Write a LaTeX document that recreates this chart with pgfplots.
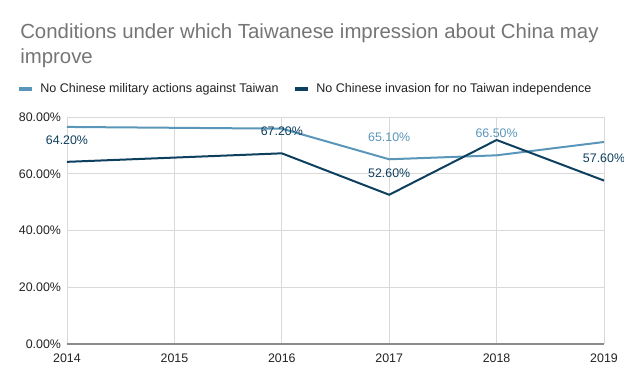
\documentclass[border=0pt]{standalone}
\usepackage{fontspec}
\setmainfont{Liberation Sans}
\usepackage{pgfplots}
\pgfplotsset{compat=1.18}
\definecolor{lightser}{HTML}{5A96BA}
\definecolor{darkser}{HTML}{0D3F5F}
\definecolor{titlegray}{HTML}{757575}
\definecolor{gridgray}{HTML}{D9D9D9}
\definecolor{axisgray}{HTML}{8C8C8C}
\definecolor{ticktext}{HTML}{222222}
\begin{document}
\begin{tikzpicture}[x=1pt,y=1pt]
\path[use as bounding box] (0,0) rectangle (468,288.75);
% title
\node[anchor=base west, inner sep=0, text=titlegray, font=\fontsize{15.3}{18}\selectfont] at (15,259.5) {Conditions under which Taiwanese impression about China may};
\node[anchor=base west, inner sep=0, text=titlegray, font=\fontsize{15.3}{18}\selectfont] at (15,241) {improve};
% legend
\fill[lightser] (14.25,220.5) rectangle (24,223.5);
\node[anchor=base west, inner sep=0, text=ticktext, font=\fontsize{9.4}{11}\selectfont] at (30,219) {No Chinese military actions against Taiwan};
\fill[darkser] (221.25,220.5) rectangle (231,223.5);
\node[anchor=base west, inner sep=0, text=ticktext, font=\fontsize{9.4}{11}\selectfont] at (237,219) {No Chinese invasion for no Taiwan independence};
\begin{axis}[
  at={(50.25pt,30.75pt)}, anchor=origin,
  scale only axis, width=402.75pt, height=170.25pt,
  xmin=2014, xmax=2019, ymin=0, ymax=80,
  xtick={2014,2015,2016,2017,2018,2019},
  ytick={0,20,40,60,80},
  yticklabels={0.00\%,20.00\%,40.00\%,60.00\%,80.00\%},
  /pgf/number format/assume math mode=true,
  tick label style={font=\fontsize{9.3}{11}\selectfont, text=ticktext},
  xticklabel style={/pgf/number format/1000 sep={}, yshift=-4pt},
  yticklabel style={xshift=-1pt},
  grid=major, major grid style={gridgray, line width=0.75pt},
  axis line style={draw=none},
  tick style={draw=none},
  clip=false,
]
\draw[axisgray, line width=1.5pt] (axis cs:2014,0) -- (axis cs:2019,0);
\addplot[lightser, line width=1.5pt, mark=none] coordinates {
 (2014,76.5) (2016,75.9) (2017,65.1) (2018,66.5) (2019,71.2)};
\addplot[darkser, line width=1.5pt, mark=none] coordinates {
 (2014,64.2) (2016,67.2) (2017,52.6) (2018,71.9) (2019,57.6)};
% data labels
\addplot[draw=none, mark=none, nodes near coords, point meta=explicit symbolic,
  every node near coord/.style={anchor=center, yshift=16.5pt, text=lightser, font=\fontsize{9.3}{11}\selectfont}]
 coordinates {(2017,65.1) [65.10\%] (2018,66.5) [66.50\%]};
\addplot[draw=none, mark=none, nodes near coords, point meta=explicit symbolic,
  every node near coord/.style={anchor=center, yshift=16.5pt, text=darkser, font=\fontsize{9.3}{11}\selectfont}]
 coordinates {(2014,64.2) [64.20\%] (2016,67.2) [67.20\%] (2017,52.6) [52.60\%] (2019,57.6) [57.60\%]};
\end{axis}
\end{tikzpicture}
\end{document}
